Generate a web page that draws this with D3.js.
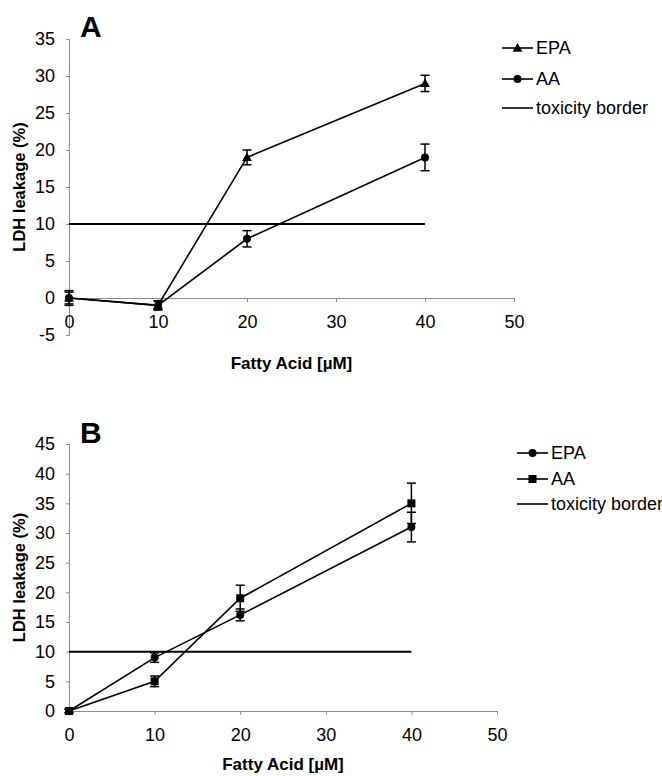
<!DOCTYPE html>
<html><head><meta charset="utf-8">
<script src="https://cdn.jsdelivr.net/npm/d3@7"></script>
<style>
body{margin:0;background:#fff}
text{font-family:"Liberation Sans",Arial,Helvetica,sans-serif;fill:#000}
</style>
</head><body>
<svg id="chart" width="662" height="776"></svg>
<script>
// ---------- data ----------
const concentrations = [0, 10, 20, 40];
const xTicks = [0, 10, 20, 30, 40, 50];
const xTitle = "Fatty Acid [\u00B5M]";
const yTitle = "LDH leakage (%)";
const legendLabels = ["EPA", "AA", "toxicity border"];
const toxicityBorder = 10;
const toxicityRange = [0, 40];

// Panel A
const aYTicks = [-5, 0, 5, 10, 15, 20, 25, 30, 35];
const aEPA = [0, -1, 19, 29];
const aEPAerr = [1, 0.6, 1, 1.1];
const aAA = [0, -1, 8, 19];
const aAAerr = [0.8, 0.6, 1.1, 1.8];

// Panel B
const bYTicks = [0, 5, 10, 15, 20, 25, 30, 35, 40, 45];
const bEPA = [0, 9, 16.2, 31];
const bEPAerr = [0.3, 0.8, 1, 2.5];
const bAA = [0, 5, 19, 35];
const bAAerr = [0.3, 0.9, 2.2, 3.4];

// ---------- layout ----------
const panels = [
  {
    letter: "A", letterPos: [80, 37],
    xRange: [69, 514], yRange: [335, 39], yDomain: [-5, 35],
    yTicks: aYTicks, xAxisAt: 0,
    xTitleY: 369, yTitleX: 25,
    series: [
      {name: "EPA", values: aEPA, err: aEPAerr, marker: "triangle"},
      {name: "AA", values: aAA, err: aAAerr, marker: "circle"}
    ],
    legend: {x0: 502, x1: 533, tx: 536, ys: [48, 79, 108]}
  },
  {
    letter: "B", letterPos: [80, 443],
    xRange: [69, 497], yRange: [711, 444], yDomain: [0, 45],
    yTicks: bYTicks, xAxisAt: 0,
    xTitleY: 770, yTitleX: 25,
    series: [
      {name: "EPA", values: bEPA, err: bEPAerr, marker: "circle"},
      {name: "AA", values: bAA, err: bAAerr, marker: "square"}
    ],
    legend: {x0: 517, x1: 548, tx: 551, ys: [453, 479, 504]}
  }
];

const svg = d3.select("#chart");
const fmt = d => String(d);

function drawMarker(g, type, x, y) {
  if (type === "circle") {
    g.append("circle").attr("cx", x).attr("cy", y).attr("r", 4).attr("fill", "#000");
  } else if (type === "square") {
    g.append("rect").attr("x", x - 4).attr("y", y - 4).attr("width", 8).attr("height", 8).attr("fill", "#000");
  } else {
    g.append("path").attr("d", d3.symbol(d3.symbolTriangle, 42)()).attr("transform", `translate(${x},${y + 0.8})`).attr("fill", "#000");
  }
}

panels.forEach(p => {
  const g = svg.append("g");
  const x = d3.scaleLinear().domain([0, 50]).range(p.xRange);
  const y = d3.scaleLinear().domain(p.yDomain).range(p.yRange);

  // y axis
  const ya = g.append("g").attr("transform", `translate(${p.xRange[0]},0)`)
    .call(d3.axisLeft(y).tickValues(p.yTicks).tickSize(3).tickPadding(11).tickFormat(fmt));
  ya.selectAll("path,line").attr("stroke", "#8a8a8a").attr("stroke-width", 1);
  ya.selectAll("text").attr("font-size", 18).attr("fill", "#000");

  // x axis
  const xa = g.append("g").attr("transform", `translate(0,${y(p.xAxisAt)})`)
    .call(d3.axisBottom(x).tickValues(xTicks).tickSize(4).tickPadding(13).tickFormat(fmt));
  xa.selectAll("path,line").attr("stroke", "#8a8a8a").attr("stroke-width", 1);
  xa.selectAll("text").attr("font-size", 18).attr("fill", "#000");

  // toxicity border
  g.append("line")
    .attr("x1", x(toxicityRange[0])).attr("x2", x(toxicityRange[1]))
    .attr("y1", y(toxicityBorder)).attr("y2", y(toxicityBorder))
    .attr("stroke", "#000").attr("stroke-width", 2);

  // series
  const line = d3.line().x((d, i) => x(concentrations[i])).y(d => y(d));
  p.series.forEach(s => {
    g.append("path").datum(s.values).attr("d", line)
      .attr("fill", "none").attr("stroke", "#000").attr("stroke-width", 1.6);
    s.values.forEach((v, i) => {
      const cx = x(concentrations[i]);
      const e = s.err[i];
      const eb = g.append("g").attr("stroke", "#000").attr("stroke-width", 1.5);
      eb.append("line").attr("x1", cx).attr("x2", cx).attr("y1", y(v - e)).attr("y2", y(v + e));
      eb.append("line").attr("x1", cx - 4.5).attr("x2", cx + 4.5).attr("y1", y(v - e)).attr("y2", y(v - e));
      eb.append("line").attr("x1", cx - 4.5).attr("x2", cx + 4.5).attr("y1", y(v + e)).attr("y2", y(v + e));
      drawMarker(g, s.marker, cx, y(v));
    });
  });

  // panel letter
  g.append("text").attr("x", p.letterPos[0]).attr("y", p.letterPos[1])
    .attr("font-size", 30).attr("font-weight", "bold").text(p.letter);

  // axis titles
  g.append("text").attr("x", (p.xRange[0] + p.xRange[1]) / 2).attr("y", p.xTitleY)
    .attr("text-anchor", "middle").attr("font-size", 17).attr("font-weight", "bold").text(xTitle);
  const ymid = (p.yRange[0] + p.yRange[1]) / 2;
  g.append("text").attr("transform", `translate(${p.yTitleX},${ymid}) rotate(-90)`)
    .attr("text-anchor", "middle").attr("font-size", 16.5).attr("font-weight", "bold").text(yTitle);

  // legend
  const L = p.legend;
  legendLabels.forEach((lab, i) => {
    const ly = L.ys[i];
    g.append("line").attr("x1", L.x0).attr("x2", L.x1).attr("y1", ly).attr("y2", ly)
      .attr("stroke", "#000").attr("stroke-width", 1.6);
    if (i < 2) drawMarker(g, p.series[i].marker, (L.x0 + L.x1) / 2, ly);
    g.append("text").attr("x", L.tx).attr("y", ly).attr("dy", "0.35em")
      .attr("font-size", 18).text(lab);
  });
});
</script>
</body></html>
